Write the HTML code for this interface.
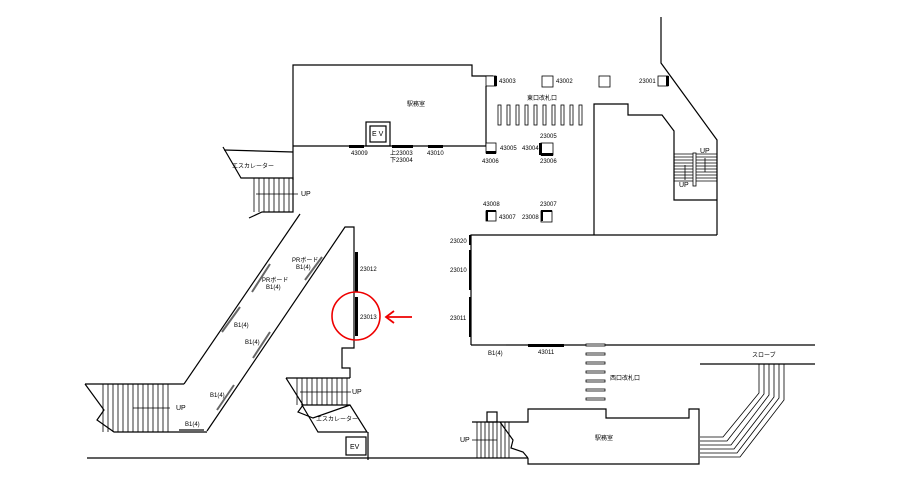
<!DOCTYPE html>
<html><head><meta charset="utf-8"><style>
html,body{margin:0;padding:0;background:#fff;}
svg{display:block;}
text{font-family:"Liberation Sans","Noto Sans CJK JP",sans-serif;font-size:6px;fill:#000;}
</style></head><body>
<svg width="919" height="491" viewBox="0 0 919 491" xmlns="http://www.w3.org/2000/svg">
<g fill="none" stroke="#000" stroke-width="1.2">
<polyline points="293,180 293,65 472,65 472,76 493,76"/>
<line x1="293" y1="146" x2="486" y2="146"/>
<line x1="486" y1="86" x2="486" y2="146"/>
<rect x="366" y="122" width="24" height="24"/>
<rect x="370" y="126" width="16" height="16"/>
<polyline points="661,17 661,63 717,140 717,235"/>
<polyline points="594,235 594,104 628,104 628,115 662,115 674,131 674,200 717,200"/>
<polyline points="471,345 471,235 717,235"/>
<line x1="471" y1="345" x2="815" y2="345"/>
<polyline points="224,150 293,152"/>
<polyline points="223,147 241,178 293,178 293,212 262,212 249,218"/>
<line x1="184" y1="384" x2="300" y2="214"/>
<polyline points="207,431 345,227 354,227 354,348 342,348 342,368 350,368 350,378"/>
<line x1="85" y1="384" x2="184" y2="384"/>
<polyline points="85,384 104,410 97,420 114,432 207,432"/>
<polyline points="286,378 350,378"/>
<polyline points="286,378 303,405 298,412 313,418 350,405"/>
<polygon points="302,405 350,405 367,432 318,432"/>
<rect x="346" y="437" width="20" height="18"/>
<line x1="368" y1="432" x2="368" y2="460"/>
<line x1="87" y1="458" x2="528" y2="458"/>
<polyline points="472,422 528,422 528,409 606,409 606,418 689,418 689,409 699,409 699,464 528,464 528,458"/>
<rect x="487" y="412" width="10" height="10"/>
<polyline points="500,422 513,440 511,448 523,452 528,458"/>
<line x1="700" y1="364" x2="815" y2="364"/>
</g>
<g stroke="#000" stroke-width="0.8">
<line x1="254" y1="178" x2="254" y2="212"/><line x1="259" y1="178" x2="259" y2="212"/><line x1="264" y1="178" x2="264" y2="212"/><line x1="269" y1="178" x2="269" y2="212"/><line x1="274" y1="178" x2="274" y2="212"/><line x1="279" y1="178" x2="279" y2="212"/><line x1="284" y1="178" x2="284" y2="212"/><line x1="289" y1="178" x2="289" y2="212"/>
<line x1="256" y1="194" x2="298" y2="194"/>
<line x1="103" y1="384" x2="103" y2="432"/><line x1="108" y1="384" x2="108" y2="432"/><line x1="113" y1="384" x2="113" y2="432"/><line x1="118" y1="384" x2="118" y2="432"/><line x1="123" y1="384" x2="123" y2="432"/><line x1="128" y1="384" x2="128" y2="432"/><line x1="133" y1="384" x2="133" y2="432"/><line x1="138" y1="384" x2="138" y2="432"/><line x1="143" y1="384" x2="143" y2="432"/><line x1="148" y1="384" x2="148" y2="432"/><line x1="153" y1="384" x2="153" y2="432"/><line x1="158" y1="384" x2="158" y2="432"/><line x1="163" y1="384" x2="163" y2="432"/><line x1="168" y1="384" x2="168" y2="432"/>
<line x1="133" y1="408" x2="170" y2="408"/>
<line x1="297" y1="378" x2="297" y2="405"/><line x1="302" y1="378" x2="302" y2="405"/><line x1="307" y1="378" x2="307" y2="405"/><line x1="312" y1="378" x2="312" y2="405"/><line x1="317" y1="378" x2="317" y2="405"/><line x1="322" y1="378" x2="322" y2="405"/><line x1="327" y1="378" x2="327" y2="405"/><line x1="332" y1="378" x2="332" y2="405"/><line x1="337" y1="378" x2="337" y2="405"/><line x1="342" y1="378" x2="342" y2="405"/><line x1="347" y1="378" x2="347" y2="405"/>
<line x1="300" y1="392" x2="351" y2="392"/>
<line x1="477" y1="422" x2="477" y2="458"/><line x1="481" y1="422" x2="481" y2="458"/><line x1="485" y1="422" x2="485" y2="458"/><line x1="489" y1="422" x2="489" y2="458"/><line x1="493" y1="422" x2="493" y2="458"/><line x1="497" y1="422" x2="497" y2="458"/><line x1="501" y1="422" x2="501" y2="458"/><line x1="505" y1="422" x2="505" y2="458"/><line x1="509" y1="422" x2="509" y2="458"/>
<line x1="472" y1="440" x2="497" y2="440"/>
<line x1="674" y1="154" x2="717" y2="154"/><line x1="674" y1="157" x2="717" y2="157"/><line x1="674" y1="160" x2="717" y2="160"/><line x1="674" y1="163" x2="717" y2="163"/><line x1="674" y1="166" x2="717" y2="166"/><line x1="674" y1="169" x2="717" y2="169"/><line x1="674" y1="172" x2="717" y2="172"/><line x1="674" y1="175" x2="717" y2="175"/><line x1="674" y1="178" x2="717" y2="178"/><line x1="674" y1="181" x2="717" y2="181"/>
<line x1="685" y1="165" x2="685" y2="180"/><line x1="705" y1="158" x2="705" y2="172"/>
</g>
<rect x="693" y="153" width="3" height="33" fill="#fff" stroke="#000" stroke-width="0.8"/>
<!-- slope bundle -->
<g fill="none" stroke="#000" stroke-width="0.8">
<polyline points="759,364 759,393 723,437 700,437"/>
<polyline points="764,364 764,394 727,441 700,441"/>
<polyline points="769,364 769,395 731,445 700,445"/>
<polyline points="774,364 774,397 734,449 700,449"/>
<polyline points="779,364 779,398 737,453 700,453"/>
<polyline points="784,364 784,400 740,457 700,457"/>
</g>
<g fill="#fff" stroke="#000" stroke-width="0.8">
<rect x="498" y="105" width="3" height="20"/><rect x="507" y="105" width="3" height="20"/><rect x="516" y="105" width="3" height="20"/><rect x="525" y="105" width="3" height="20"/><rect x="534" y="105" width="3" height="20"/><rect x="543" y="105" width="3" height="20"/><rect x="552" y="105" width="3" height="20"/><rect x="561" y="105" width="3" height="20"/><rect x="570" y="105" width="3" height="20"/><rect x="579" y="105" width="3" height="20"/>
<rect x="586" y="344" width="19" height="2"/><rect x="586" y="353" width="19" height="2"/><rect x="586" y="362" width="19" height="2"/><rect x="586" y="371" width="19" height="2"/><rect x="586" y="380" width="19" height="2"/><rect x="586" y="389" width="19" height="2"/><rect x="586" y="398" width="19" height="2"/>
<rect x="486" y="76" width="10" height="10"/><rect x="542" y="76" width="11" height="11"/><rect x="599" y="76" width="11" height="11"/><rect x="658" y="76" width="10" height="10"/>
<rect x="486" y="143" width="10" height="10"/><rect x="541" y="143" width="12" height="12"/>
<rect x="486" y="211" width="10" height="10"/><rect x="541" y="211" width="11" height="11"/>
</g>
<g fill="#000">
<rect x="494" y="76" width="3" height="10"/><rect x="666" y="76" width="3" height="10"/>
<rect x="486" y="151" width="10" height="3"/><rect x="539" y="143" width="3" height="12"/><rect x="541" y="153" width="12" height="3"/>
<rect x="486" y="210" width="10" height="2"/><rect x="486" y="210" width="2" height="11"/><rect x="541" y="210" width="11" height="2"/><rect x="541" y="210" width="2" height="11"/>
<rect x="349" y="145" width="15" height="3"/><rect x="392" y="145" width="21" height="3"/><rect x="428" y="145" width="15" height="3"/>
<rect x="355" y="252" width="3" height="40"/><rect x="355" y="297" width="3" height="39"/>
<rect x="469" y="235" width="2" height="10"/><rect x="469" y="250" width="2" height="40"/><rect x="469" y="297" width="2" height="40"/>
<rect x="528" y="344" width="36" height="3"/>
</g>
<g stroke="#666" stroke-width="2">
<line x1="480" y1="345" x2="506" y2="345"/>
<line x1="179" y1="430" x2="204" y2="430"/>
<line x1="252" y1="292" x2="270" y2="264"/><line x1="305" y1="280" x2="322" y2="257"/>
<line x1="222" y1="332" x2="240" y2="307"/><line x1="253" y1="358" x2="270" y2="332"/><line x1="217" y1="410" x2="234" y2="385"/>
</g>
<circle cx="356" cy="316" r="24" fill="none" stroke="#e00" stroke-width="1.6"/>
<line x1="386" y1="317" x2="412" y2="317" stroke="#e00" stroke-width="1.8"/>
<polyline points="394,311 386,317 394,323" fill="none" stroke="#e00" stroke-width="1.8"/>
<text x="407" y="106">駅務室</text>
<text x="372" y="136" style="font-size:7px">E V</text>
<text x="351" y="155">43009</text><text x="390" y="155">上23003</text><text x="390" y="162">下23004</text><text x="427" y="155">43010</text>
<text x="499" y="83">43003</text><text x="556" y="83">43002</text><text x="639" y="83">23001</text>
<text x="527" y="100">東口改札口</text>
<text x="500" y="150">43005</text><text x="482" y="163">43006</text><text x="522" y="150">43004</text><text x="540" y="138">23005</text><text x="540" y="163">23006</text>
<text x="483" y="206">43008</text><text x="499" y="219">43007</text><text x="522" y="219">23008</text><text x="540" y="206">23007</text>
<text x="450" y="243">23020</text><text x="450" y="272">23010</text><text x="450" y="320">23011</text>
<text x="360" y="271">23012</text><text x="360" y="319">23013</text>
<text x="488" y="355">B1(4)</text><text x="538" y="354">43011</text>
<text x="610" y="380">西口改札口</text>
<text x="752" y="357">スローブ</text>
<text x="595" y="440">駅務室</text>
<text x="460" y="442" style="font-size:7px">UP</text>
<text x="700" y="153" style="font-size:7px">UP</text><text x="679" y="187" style="font-size:7px">UP</text>
<text x="232" y="168">エスカレーター</text>
<text x="301" y="196" style="font-size:7px">UP</text>
<text x="292" y="262">PRボード</text><text x="296" y="269">B1(4)</text>
<text x="262" y="282">PRボード</text><text x="266" y="289">B1(4)</text>
<text x="234" y="327">B1(4)</text><text x="245" y="344">B1(4)</text><text x="210" y="397">B1(4)</text>
<text x="176" y="410" style="font-size:7px">UP</text><text x="185" y="426">B1(4)</text>
<text x="352" y="394" style="font-size:7px">UP</text>
<text x="316" y="421">エスカレーター</text>
<text x="350" y="449" style="font-size:7px">EV</text>
</svg>
</body></html>
